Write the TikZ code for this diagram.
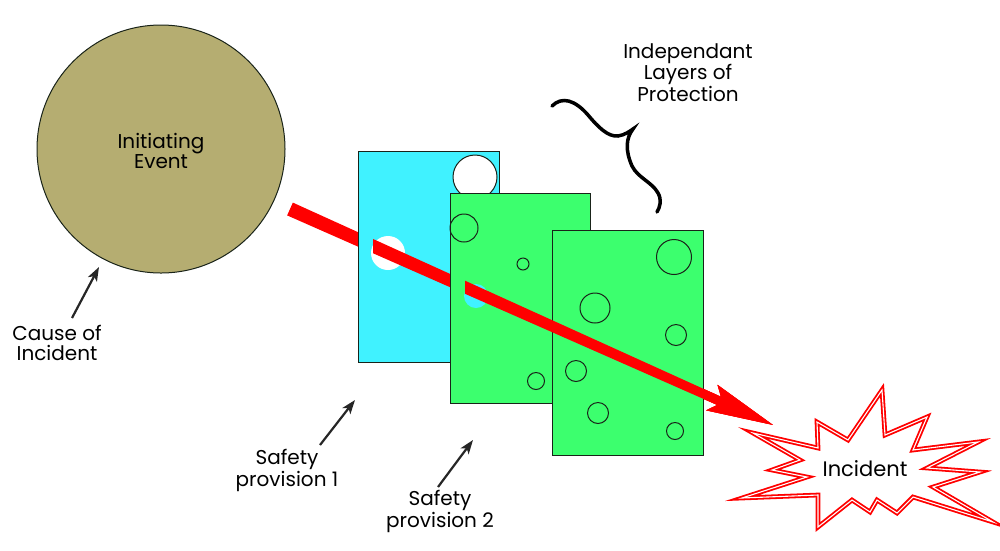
\documentclass[tikz,border=0pt]{standalone}
\usepackage{fontspec}
\setmainfont{Poppins}
\usetikzlibrary{arrows.meta}
\definecolor{ieolive}{RGB}{181,173,113}
\definecolor{cardcyan}{RGB}{64,242,255}
\definecolor{cardgreen}{RGB}{60,255,110}
\definecolor{inkline}{RGB}{25,35,25}
\tikzset{
  lbl/.style={font=\fontsize{20}{19.5}\selectfont, align=center, inner sep=0pt, text=black},
  card/.style={draw=inkline, line width=1pt, inner sep=0pt, anchor=north west},
  hole/.style={draw=inkline, line width=1pt},
  pointer/.style={line width=2.2pt, draw=black!85, -{Stealth[length=14pt,width=10pt,inset=3.5pt]}},
  bigarrow/.pic={\fill[red] (0,-7) -- (470,-4.5) -- (462,-14) -- (529,0) -- (462,14) -- (470,4.5) -- (0,7) -- cycle;},
  burst/.style={fill=white, draw=red, line width=1.8pt, double=white, double distance=1.1pt, line join=miter},
  squiggle/.style={line width=3.5pt, line cap=round, draw=black}
}
\begin{document}
\begin{tikzpicture}[x=1pt,y=-1pt]
\useasboundingbox (0,0) rectangle (1000,550);
% initiating event
\node[circle, draw=inkline, line width=1pt, fill=ieolive, minimum size=248pt, inner sep=0pt] (ie) at (161,149) {};
\node[lbl] (ietext) at (161,151) {Initiating\\Event};
% full red arrow (lowest layer)
\pic[rotate=-24.09] at (290,209) {bigarrow};
% safety provision 1 card
\node[card, fill=cardcyan, minimum width=141pt, minimum height=211pt] (card1) at (358,151) {};
\fill[white] (388,253) circle[radius=17];
\draw[hole, fill=white] (475,177) circle[radius=22];
% arrow emerging from hole
\begin{scope}
\clip (373,0) rectangle (1000,550);
\pic[rotate=-24.09] at (290,209) {bigarrow};
\end{scope}
% safety provision 2 card
\node[card, fill=cardgreen, minimum width=140pt, minimum height=210pt] (card2) at (450,193) {};
\draw[hole] (464,228) circle[radius=14];
\draw[hole] (523,264) circle[radius=6];
\draw[hole] (536,381) circle[radius=8.5];
\fill[cardcyan] (476,296) circle[radius=12];
% third layer
\node[card, fill=cardgreen, minimum width=151pt, minimum height=225pt] (card3) at (552,230) {};
\draw[hole] (674,257) circle[radius=17.5];
\draw[hole] (595,308) circle[radius=15];
\draw[hole] (676,335) circle[radius=10.5];
\draw[hole] (576,371) circle[radius=10.5];
\draw[hole] (598,413) circle[radius=10.5];
\draw[hole] (675,431) circle[radius=8.5];
% incident burst
\draw[burst] (753,433) -- (818,448) -- (817,422) -- (848,440) -- (882,390) -- (885,435)
  -- (927,417) -- (913,450) -- (978,442) -- (927,468) -- (980,472) -- (933,487)
  -- (993,522) -- (913,497) -- (897,513) -- (877,500) -- (870,512) -- (852,500)
  -- (818,527) -- (818,495) -- (742,498) -- (807,477) -- (772,470) -- (800,460) -- cycle;
\node[lbl, font=\fontsize{21}{20}\selectfont] (inc) at (865,469) {Incident};
% arrow after passing second hole
\begin{scope}
\clip (465,0) rectangle (1000,550);
\pic[rotate=-24.09] at (290,209) {bigarrow};
\end{scope}
% independent layers brace
\node[lbl] (ipl) at (688,72.5) {Independant\\Layers of\\Protection};
\draw[squiggle] (552,106) .. controls (562,96) and (575,100) .. (588,115)
  .. controls (598,127) and (608,137) .. (618,136)
  .. controls (625,135) and (630,131) .. (633,129)
  .. controls (626,138) and (625,150) .. (632,166)
  .. controls (638,178) and (652,182) .. (658,193)
  .. controls (662,200) and (660,207) .. (657,212);
% labels and pointers
\node[lbl] (cause) at (57,343) {Cause of\\Incident};
\node[lbl] (sp1) at (287,470.5) {Safety\\provision 1};
\node[lbl] (sp2) at (440,511.5) {Safety\\provision 2};
\coordinate (causeTail) at (72,318);
\coordinate (causeTip) at (99,267);
\coordinate (sp1Tail) at (320,445);
\coordinate (sp1Tip) at (355,400);
\coordinate (sp2Tail) at (438,487);
\coordinate (sp2Tip) at (473,440);
\draw[pointer] (causeTail) -- (causeTip);
\draw[pointer] (sp1Tail) -- (sp1Tip);
\draw[pointer] (sp2Tail) -- (sp2Tip);
\end{tikzpicture}
\end{document}
